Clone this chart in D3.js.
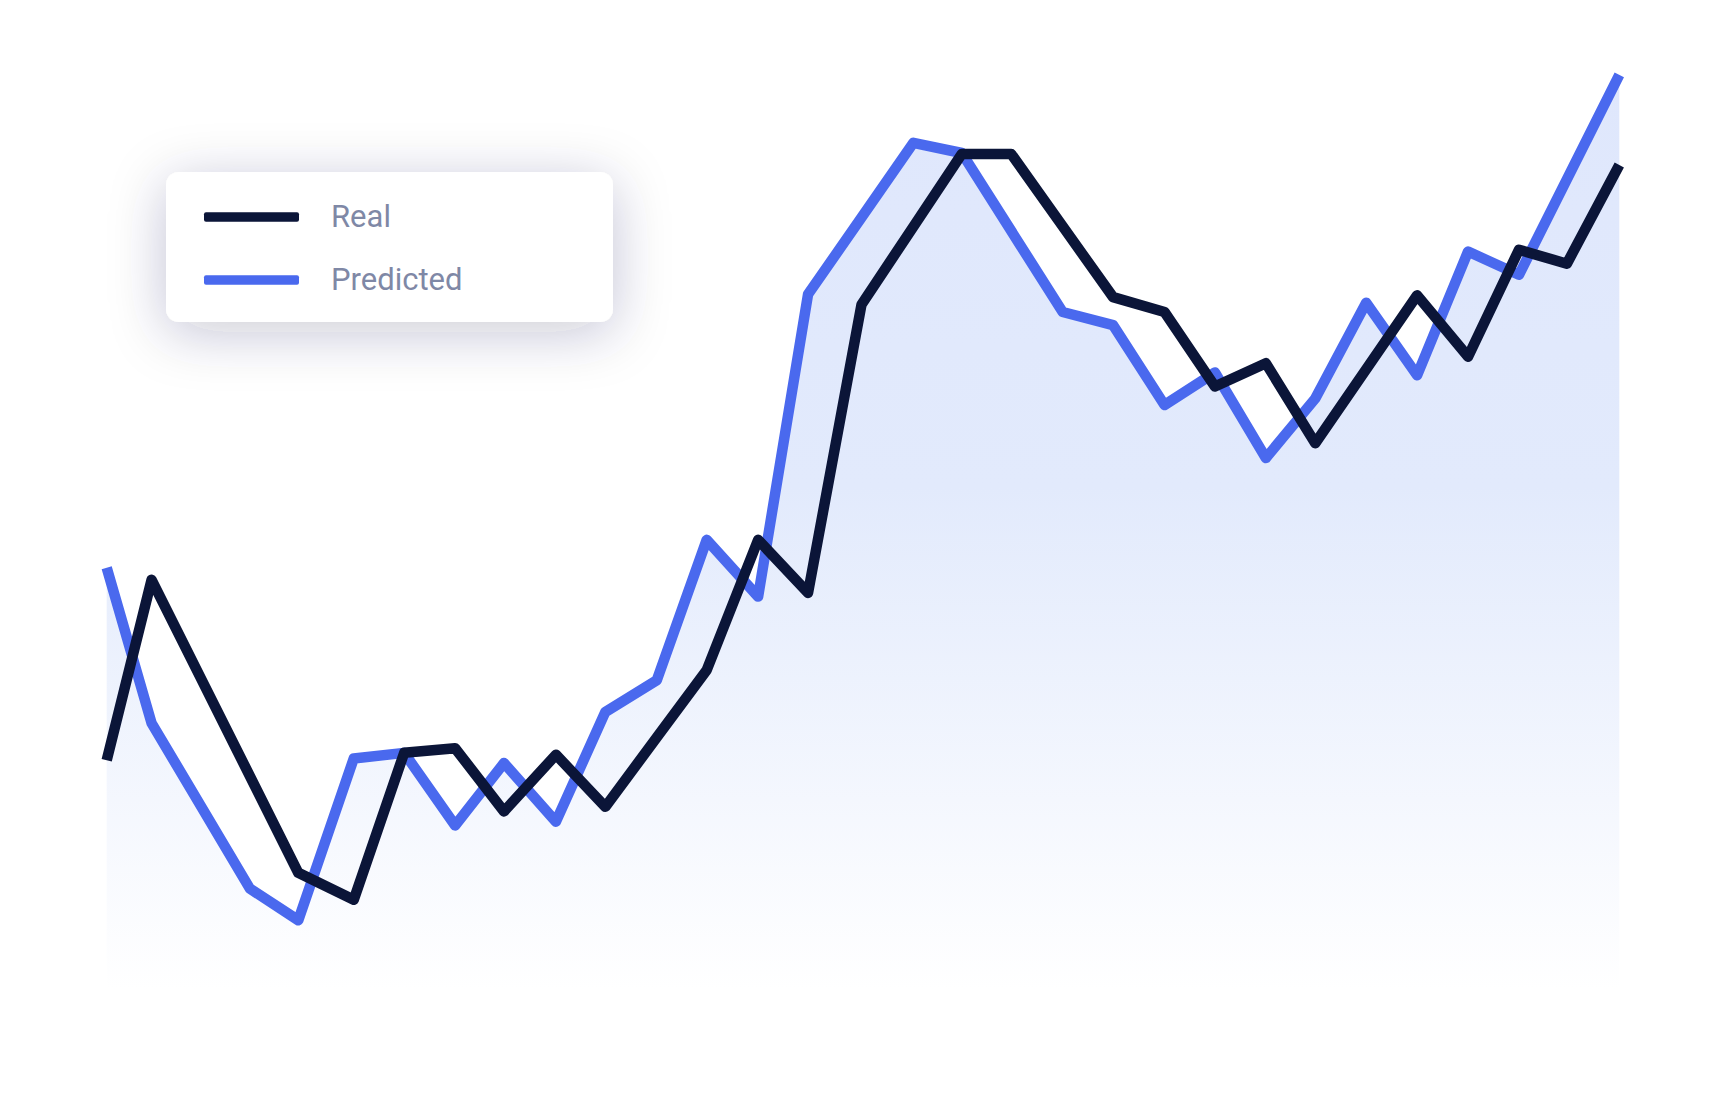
<!DOCTYPE html>
<html>
<head>
<meta charset="utf-8">
<script src="https://cdn.jsdelivr.net/npm/d3@7"></script>
<style>
  html, body { margin: 0; padding: 0; background: #ffffff; }
  svg { display: block; }
</style>
</head>
<body>
<svg id="chart" width="1721" height="1106"></svg>
<script>
// sample positions along the time axis (in periods, spacing is slightly irregular)
const periods = [0, 0.89, 1.86, 2.84, 3.80, 4.90, 5.90, 6.91, 7.88, 8.91,
  9.89, 10.91, 11.90, 12.92, 13.91, 14.97, 16.0, 16.96, 17.94, 18.96,
  19.96, 20.98, 21.98, 22.99, 23.97, 24.98, 25.99, 27.0, 28.01, 28.96, 30];

// series values (arbitrary units)
const realValues = [24.7, 44.1, 33.6, 23.0, 12.6, 9.7, 25.5, 26.0, 19.2, 25.3,
  19.7, 27.16, 34.4, 48.4, 42.7, 73.7, 82.09, 89.9, 89.9, 82.12,
  74.5, 72.9, 64.9, 67.4, 58.8, 66.75, 74.7, 68.1, 79.6, 78.1, 88.7];

const predictedValues = [45.4, 28.7, 19.85, 10.9, 7.5, 24.9, 25.5, 17.7, 24.4, 18.1,
  29.9, 33.3, 48.4, 42.3, 74.8, 83.07, 91.1, 90.0, 81.62, 72.9,
  71.5, 62.9, 66.4, 57.2, 63.6, 73.9, 66.1, 79.4, 76.9, 87.16, 98.4];

const seriesNames = ["Real", "Predicted"];
const seriesColors = ["#0b1538", "#4a69ee"];

const svg = d3.select("#chart");

const x = d3.scaleLinear()
    .domain([0, 30])
    .range([106.7, 1619.3]);

const y = d3.scaleLinear()
    .domain([0, 100])
    .range([990, 60]);

const defs = svg.append("defs");

const grad = defs.append("linearGradient")
    .attr("id", "areaFill")
    .attr("gradientUnits", "userSpaceOnUse")
    .attr("x1", 0).attr("x2", 0)
    .attr("y1", y(d3.max(predictedValues)))
    .attr("y2", y(0));
grad.append("stop").attr("offset", "0%").attr("stop-color", "#dfe7fc");
grad.append("stop").attr("offset", "45%").attr("stop-color", "#e2eafc");
grad.append("stop").attr("offset", "100%").attr("stop-color", "#ffffff");

const shadow = defs.append("filter")
    .attr("id", "legendShadow")
    .attr("x", "-40%").attr("y", "-80%")
    .attr("width", "180%").attr("height", "260%");
shadow.append("feDropShadow")
    .attr("dx", 0).attr("dy", 10)
    .attr("stdDeviation", 28)
    .attr("flood-color", "#1c2550")
    .attr("flood-opacity", 0.24);

const area = d3.area()
    .x((d, i) => x(periods[i]))
    .y0(y(0))
    .y1(d => y(d));

const line = d3.line()
    .x((d, i) => x(periods[i]))
    .y(d => y(d));

svg.append("path")
    .datum(predictedValues)
    .attr("d", area)
    .attr("fill", "url(#areaFill)");

svg.append("path")
    .datum(predictedValues)
    .attr("d", line)
    .attr("fill", "none")
    .attr("stroke", seriesColors[1])
    .attr("stroke-width", 10.5)
    .attr("stroke-linejoin", "round");

svg.append("path")
    .datum(realValues)
    .attr("d", line)
    .attr("fill", "none")
    .attr("stroke", seriesColors[0])
    .attr("stroke-width", 10.5)
    .attr("stroke-linejoin", "round");

// legend card
const legend = svg.append("g").attr("transform", "translate(166,172)");

legend.append("rect")
    .attr("width", 447)
    .attr("height", 150)
    .attr("rx", 13)
    .attr("fill", "#ffffff")
    .attr("filter", "url(#legendShadow)");

const item = legend.selectAll(".item")
    .data(seriesNames)
    .enter()
    .append("g")
    .attr("class", "item")
    .attr("transform", (d, i) => "translate(0," + (45 + i * 63) + ")");

item.append("rect")
    .attr("x", 38)
    .attr("y", -4.75)
    .attr("width", 95)
    .attr("height", 9.5)
    .attr("rx", 2)
    .attr("fill", (d, i) => seriesColors[i]);

item.append("text")
    .attr("x", 165)
    .attr("y", 10)
    .attr("font-family", "Roboto, sans-serif")
    .attr("font-size", 31)
    .attr("fill", "#7f88a6")
    .text(d => d);
</script>
</body>
</html>
